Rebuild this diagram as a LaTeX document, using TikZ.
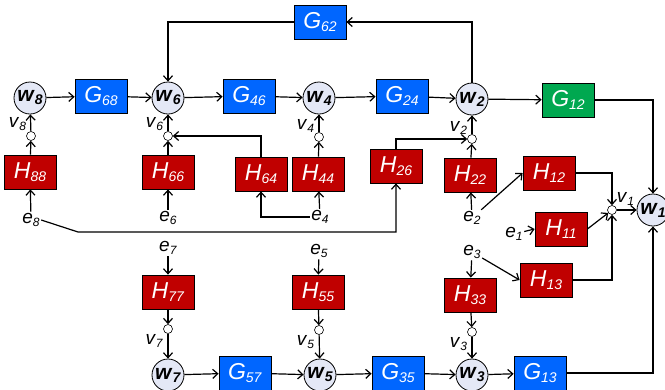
\documentclass[tikz,border=0pt]{standalone}
\usepackage{fontspec}
\setmainfont{Liberation Sans}
\usetikzlibrary{arrows.meta}

\definecolor{gblue}{RGB}{0,102,255}
\definecolor{hred}{RGB}{192,0,0}
\definecolor{ggreen}{RGB}{0,168,80}
\definecolor{wfill}{RGB}{228,232,246}

\newcommand{\sbx}[3]{\textit{#1}\raisebox{-#3}{\fontsize{14}{14}\selectfont\textit{#2}}}
\newcommand{\sbs}[2]{\textit{#1}\raisebox{-3pt}{\fontsize{12}{12}\selectfont\textit{#2}}}
\newcommand{\wsym}[1]{\textbf{\textit{w}\raisebox{-3pt}{\fontsize{14}{14}\selectfont\textit{#1}}}}

\begin{document}
\begin{tikzpicture}[x=1pt, y=-1pt, line width=1.2pt, >={Straight Barb[length=5pt,width=9pt]}, blk/.style={draw=black, line width=0.8pt, text=white, minimum width=52pt, minimum height=34pt, inner sep=0pt, font=\fontsize{23}{23}\selectfont}, gblk/.style={blk, fill=gblue}, hblk/.style={blk, fill=hred}, wnode/.style={circle, draw=black, line width=0.8pt, fill=wfill, minimum size=32pt, inner sep=0pt, font=\fontsize{21}{21}\selectfont}, sumpt/.style={circle, draw=black, line width=0.6pt, fill=white, minimum size=9pt, inner sep=0pt}, inlbl/.style={font=\fontsize{19}{19}\selectfont, inner sep=1pt}]
  \useasboundingbox (0,0) rectangle (665,389);
  % feedback block
  \node[gblk] (G62) at (320,22) {\sbx{G}{62}{3pt}};
  % upper chain
  \node[wnode] (w8) at (30,98) {\wsym{8}};
  \node[gblk] (G68) at (101,96) {\sbx{G}{68}{3pt}};
  \node[wnode] (w6) at (168,98) {\wsym{6}};
  \node[gblk] (G46) at (249,96) {\sbx{G}{46}{3pt}};
  \node[wnode] (w4) at (319,98) {\wsym{4}};
  \node[gblk] (G24) at (402,96) {\sbx{G}{24}{3pt}};
  \node[wnode] (w2) at (472,99) {\wsym{2}};
  \node[blk, fill=ggreen] (G12) at (568,100) {\sbx{G}{12}{3pt}};
  \node[wnode] (w1) at (653,210) {\wsym{1}};
  % disturbance points
  \node[sumpt, label={[inlbl]above left:\sbs{v}{8}}] (v8) at (31,136) {};
  \node[sumpt, label={[inlbl]above left:\sbs{v}{6}}] (v6) at (168,136) {};
  \node[sumpt, label={[inlbl]above left:\sbs{v}{4}}] (v4) at (319,137) {};
  \node[sumpt, label={[inlbl]above left:\sbs{v}{2}}] (v2) at (472,139) {};
  \node[sumpt, label={[inlbl]above right:\sbs{v}{1}}] (v1) at (612,210) {};
  % noise filters
  \node[hblk] (H88) at (30,172) {\sbx{H}{88}{3pt}};
  \node[hblk] (H66) at (168,172) {\sbx{H}{66}{3pt}};
  \node[hblk] (H64) at (261,174) {\sbx{H}{64}{3pt}};
  \node[hblk] (H44) at (318,174) {\sbx{H}{44}{3pt}};
  \node[hblk] (H26) at (396,166) {\sbx{H}{26}{3pt}};
  \node[hblk] (H22) at (470,175) {\sbx{H}{22}{3pt}};
  \node[hblk] (H12) at (549,173) {\sbx{H}{12}{3pt}};
  \node[hblk] (H11) at (561,229) {\sbx{H}{11}{3pt}};
  \node[hblk] (H13) at (546,280) {\sbx{H}{13}{3pt}};
  \node[inlbl] (e8) at (31,220) {\sbs{e}{8}};
  \node[inlbl] (e6) at (168,218) {\sbs{e}{6}};
  \node[inlbl] (e4) at (320,217) {\sbs{e}{4}};
  \node[inlbl] (e2) at (472,218) {\sbs{e}{2}};
  \node[inlbl] (e1) at (514,234) {\sbs{e}{1}};
  \coordinate (e8bend) at (78,232);
  % lower chain
  \node[inlbl] (e7) at (168,248) {\sbs{e}{7}};
  \node[inlbl] (e5) at (319,251) {\sbs{e}{5}};
  \node[inlbl] (e3) at (472,252) {\sbs{e}{3}};
  \node[hblk] (H77) at (168,292) {\sbx{H}{77}{3pt}};
  \node[hblk] (H55) at (318,292) {\sbx{H}{55}{3pt}};
  \node[hblk] (H33) at (470,295) {\sbx{H}{33}{3pt}};
  \node[sumpt, label={[inlbl]below left:\sbs{v}{7}}] (v7) at (168,329) {};
  \node[sumpt, label={[inlbl]below left:\sbs{v}{5}}] (v5) at (319,330) {};
  \node[sumpt, label={[inlbl]below left:\sbs{v}{3}}] (v3) at (472,332) {};
  \node[wnode] (w7) at (168,375) {\wsym{7}};
  \node[gblk] (G57) at (245,373) {\sbx{G}{57}{3pt}};
  \node[wnode] (w5) at (320,375) {\wsym{5}};
  \node[gblk] (G35) at (398,373) {\sbx{G}{35}{3pt}};
  \node[wnode] (w3) at (472,375) {\wsym{3}};
  \node[gblk] (G13) at (540,373) {\sbx{G}{13}{3pt}};
  % connections
  \draw[->] (w8) -- (G68);
  \draw[->] (G68) -- (w6);
  \draw[->] (w6) -- (G46);
  \draw[->] (G46) -- (w4);
  \draw[->] (w4) -- (G24);
  \draw[->] (G24) -- (w2);
  \draw[->] (w2) -- (G12);
  \draw[->] (G12.east) -| (w1.north);
  \draw[->] (w2.north) |- (G62.east);
  \draw[->] (G62.west) -| (w6.north);
  \draw[->] (H88) -- (v8);
  \draw[->] (v8) -- (w8);
  \draw[->] (H66) -- (v6);
  \draw[->] (v6) -- (w6);
  \draw[->] (H64.north) |- (v6.east);
  \draw[->] (H44) -- (v4);
  \draw[->] (v4) -- (w4);
  \draw[->] (H26.north) |- (v2.west);
  \draw[->] (H22) -- (v2);
  \draw[->] (v2) -- (w2);
  \draw[->] (H12.east) -| (v1.north);
  \draw[->] (H11.east) -- (v1);
  \draw[->] (H13.east) -| (v1.south);
  \draw[->] (v1) -- (w1);
  \draw[->] (e8) -- (H88);
  \draw[->] (e8.east) -- (e8bend) -| (H26.south);
  \draw[->] (e6) -- (H66);
  \draw[->] (e4) -- (H44);
  \draw[->] (e4.west) -| (H64.south);
  \draw[->] (e2) -- (H22);
  \draw[->] (e2) -- (H12.west);
  \draw[->] (e1) -- (H11.west);
  \draw[->] (e3) -- (H13.west);
  \draw[->] (e7) -- (H77);
  \draw[->] (H77) -- (v7);
  \draw[->] (v7) -- (w7);
  \draw[->] (e5) -- (H55);
  \draw[->] (H55) -- (v5);
  \draw[->] (v5) -- (w5);
  \draw[->] (e3) -- (H33);
  \draw[->] (H33) -- (v3);
  \draw[->] (v3) -- (w3);
  \draw[->] (w7) -- (G57);
  \draw[->] (G57) -- (w5);
  \draw[->] (w5) -- (G35);
  \draw[->] (G35) -- (w3);
  \draw[->] (w3) -- (G13);
  \draw[->] (G13.east) -| (w1.south);
\end{tikzpicture}
\end{document}
